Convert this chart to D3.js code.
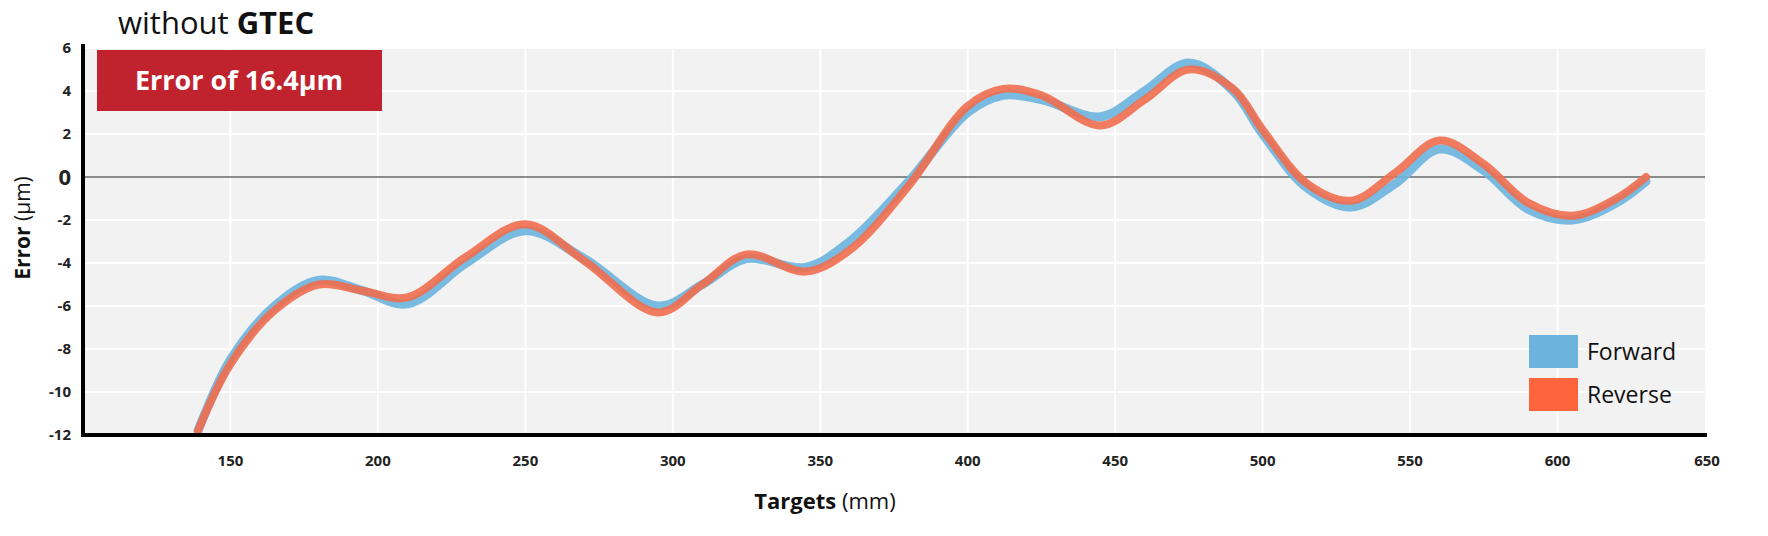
<!DOCTYPE html>
<html><head><meta charset="utf-8">
<script src="https://cdn.jsdelivr.net/npm/d3@7"></script>
<style>body{margin:0;background:#fff;font-family:"Open Sans",sans-serif}</style>
</head><body><svg id="c" width="1768" height="536"></svg>
<script>
// data
const targets = [139,150,165,180,195,210,230,250,270,295,310,325,345,360,380,400,412,425,445,460,475,490,500,515,530,545,560,575,590,605,620,630];
const forward = [-11.8,-8.5,-6,-4.8,-5.3,-5.9,-4,-2.5,-3.8,-6,-5,-3.8,-4.2,-3,-0.2,3,3.8,3.6,2.8,4,5.3,4,2,-0.5,-1.4,-0.3,1.3,0.3,-1.5,-2.0,-1.2,-0.2];
const reverse = [-11.8,-8.7,-6.2,-5.0,-5.3,-5.6,-3.7,-2.2,-3.9,-6.3,-5,-3.6,-4.4,-3.4,-0.4,3.3,4.1,3.8,2.4,3.6,5.0,4.1,2.2,-0.3,-1.1,0.2,1.7,0.6,-1.2,-1.8,-1.0,0.0];
const xTicks = [150,200,250,300,350,400,450,500,550,600,650];
const yTicks = [6,4,2,0,-2,-4,-6,-8,-10,-12];

const svg = d3.select("#c");
const L = 83, R = 1705, T = 48, B = 435;
const x = d3.scaleLinear().domain([100,650]).range([L,R]);
const y = d3.scaleLinear().domain([-12,6]).range([B,T]);

svg.append("rect").attr("x",L).attr("y",T).attr("width",R-L).attr("height",B-T).attr("fill","#f2f2f2");
svg.append("g").selectAll("line").data(xTicks.slice(0,-1)).join("line")
  .attr("x1",d=>x(d)).attr("x2",d=>x(d)).attr("y1",T).attr("y2",B).attr("stroke","#fff").attr("stroke-width",2);
svg.append("g").selectAll("line").data(yTicks.filter(d=>d!==0 && d!==-12)).join("line")
  .attr("x1",L).attr("x2",R).attr("y1",d=>y(d)).attr("y2",d=>y(d)).attr("stroke","#fff").attr("stroke-width",2);
svg.append("line").attr("x1",L).attr("x2",R).attr("y1",y(0)).attr("y2",y(0)).attr("stroke","#222").attr("stroke-width",1);

const line = d3.line().x(d=>x(d[0])).y(d=>y(d[1])).curve(d3.curveCatmullRom);
svg.append("path").attr("d",line(targets.map((t,i)=>[t,forward[i]])))
  .attr("fill","none").attr("stroke","#6cb4de").attr("stroke-width",9).attr("stroke-linecap","round").attr("opacity",0.9);
svg.append("path").attr("d",line(targets.map((t,i)=>[t,reverse[i]])))
  .attr("fill","none").attr("stroke","#f06e4e").attr("stroke-width",8).attr("stroke-linecap","round").attr("opacity",0.9);

// axes
svg.append("line").attr("x1",L).attr("x2",L).attr("y1",T-4).attr("y2",B+2).attr("stroke","#000").attr("stroke-width",4);
svg.append("line").attr("x1",L).attr("x2",R+2).attr("y1",B).attr("y2",B).attr("stroke","#000").attr("stroke-width",4);
svg.append("g").selectAll("text").data(yTicks).join("text")
  .attr("x",71).attr("y",d=>y(d)).attr("dy","0.35em").attr("text-anchor","end")
  .attr("font-weight","bold").attr("font-size",d=>d===0?22:15).attr("fill","#222").text(d=>d);
svg.append("g").selectAll("text").data(xTicks).join("text")
  .attr("x",d=>x(d)+(d===650?2:0)).attr("y",466).attr("text-anchor","middle")
  .attr("font-weight","bold").attr("font-size",15).attr("fill","#222").text(d=>d);

const xt = svg.append("text").attr("x",825).attr("y",509).attr("text-anchor","middle").attr("font-size",22).attr("fill","#111");
xt.append("tspan").attr("font-weight","bold").text("Targets");
xt.append("tspan").text(" (mm)");
const yt = svg.append("text").attr("transform","translate(30,228) rotate(-90)").attr("text-anchor","middle").attr("font-size",21).attr("fill","#111");
yt.append("tspan").attr("font-weight","bold").text("Error");
yt.append("tspan").text(" (μm)");

// title and badge
const tt = svg.append("text").attr("x",118).attr("y",34).attr("font-size",31).attr("fill","#111");
tt.append("tspan").text("without ");
tt.append("tspan").attr("font-weight","bold").text("GTEC");
svg.append("rect").attr("x",97).attr("y",50).attr("width",285).attr("height",61).attr("fill","#c0232e");
svg.append("text").attr("x",239).attr("y",90).attr("text-anchor","middle").attr("font-size",27)
  .attr("font-weight","bold").attr("fill","#fff").text("Error of 16.4μm");

// legend
const legend = [["Forward","#6cb4de"],["Reverse","#ff653d"]];
const lg = svg.append("g").selectAll("g").data(legend).join("g")
  .attr("transform",(d,i)=>`translate(1529,${335+i*43})`);
lg.append("rect").attr("width",49).attr("height",33).attr("fill",d=>d[1]);
lg.append("text").attr("x",58).attr("y",17).attr("dy","0.35em").attr("font-size",23).attr("fill","#111").text(d=>d[0]);
</script></body></html>
